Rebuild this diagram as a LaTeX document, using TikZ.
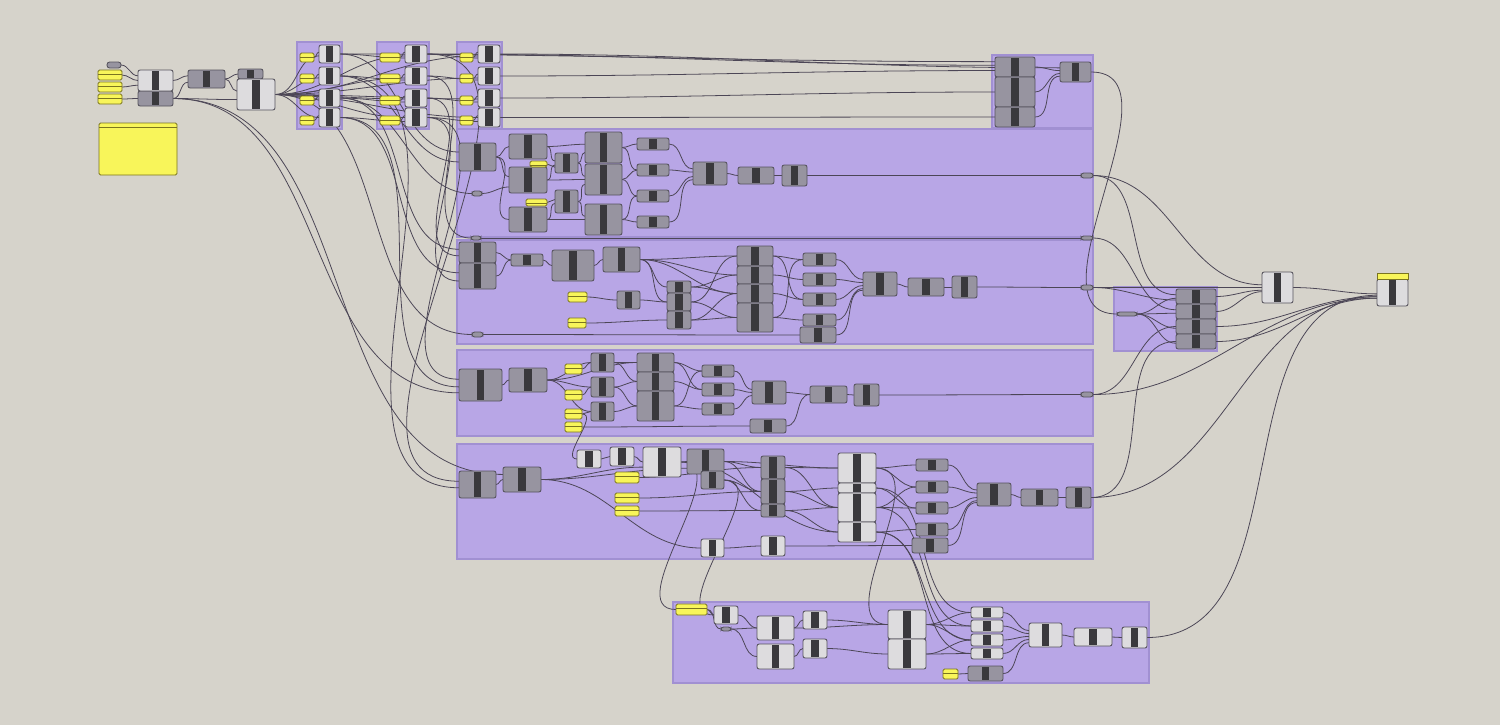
\documentclass[tikz,border=0pt]{standalone}
\usepackage{tikz}

\definecolor{bgc}{HTML}{D6D3CB}
\definecolor{grp}{HTML}{B8A6E6}
\definecolor{grpline}{HTML}{A190D2}
\definecolor{darkc}{HTML}{9794A0}
\definecolor{lightc}{HTML}{DDDCDE}
\definecolor{edge}{HTML}{55525C}
\definecolor{barc}{HTML}{3A393D}
\definecolor{ylw}{HTML}{F8F55A}
\definecolor{ylwline}{HTML}{7A7420}
\definecolor{wirec}{HTML}{4C4656}

\pgfdeclarelayer{groups}
\pgfdeclarelayer{wires}
\pgfsetlayers{groups,wires,main}

\begin{document}
\begin{tikzpicture}[x=0.02cm,y=-0.02cm,
  dark/.style={draw=edge,line width=0.5pt,fill=darkc,rounded corners=1.2pt,inner sep=0,outer sep=0,
    path picture={\fill[barc,sharp corners] ([xshift=-0.075cm,yshift=-0.02cm]path picture bounding box.north)
      rectangle ([xshift=0.075cm,yshift=0.02cm]path picture bounding box.south);}},
  light/.style={dark,fill=lightc},
  yellow/.style={draw=ylwline,line width=0.5pt,fill=ylw,rounded corners=0.8pt,inner sep=0,outer sep=0,
    path picture={\draw[ylwline,line width=0.4pt] ([yshift=-0.09cm]path picture bounding box.north west)
      -- ([yshift=-0.09cm]path picture bounding box.north east);}},
  flatyellow/.style={draw=ylwline,line width=0.4pt,fill=ylw,inner sep=0,outer sep=0},
  pill/.style={draw=edge,line width=0.5pt,fill=darkc,rounded corners=1.5pt,inner sep=0,outer sep=0},
  wire/.style={draw=wirec,line width=0.45pt},
  group/.style={fill=grp,draw=grpline,line width=0.6pt}]

% Canvas and groups
\begin{pgfonlayer}{groups}
\fill[bgc] (0,0) rectangle (1500,725);
\foreach \xa/\ya/\xb/\yb in {297/42/342/129, 377/42/429/129, 457/42/502/129, 992/55/1093/128,
    457/129/1093/237, 457/240/1093/344, 457/350/1093/436, 457/444/1093/559,
    673/602/1149/683, 1114/287/1217/351}
  \draw[group] (\xa,\ya) rectangle (\xb,\yb);
\end{pgfonlayer}
\useasboundingbox (0,0) rectangle (1500,725);

% Dark components
\foreach \n/\xa/\ya/\xb/\yb in {a2/138/91/173/106, b1/188/70/225/88, c0/238/69/263/79,
    t1/995/57/1035/77, t2/995/77/1035/107, t3/995/107/1035/127, t4/1060/62/1091/82,
    d1/459/143/496/171, d2/509/134/547/159, d3/509/167/547/193, d4/509/207/547/232,
    d5/555/153/578/173, d6/555/190/578/213, d7/585/132/622/163, d8/585/164/622/195,
    d9/585/204/622/235, d10/637/138/669/150, d11/637/164/669/176, d12/637/190/669/202,
    d13/637/216/669/228, d14/693/162/727/185, d15/738/167/774/184, d16/782/165/807/186,
    e1/459/242/496/263, e2/459/263/496/289, e3/511/254/543/266, e4/552/250/594/281,
    e5/603/247/640/272, e6/617/291/640/309, e7/667/281/691/293, e8/667/293/691/311,
    e9/667/311/691/329, e10/737/246/773/266, e11/737/266/773/284, e12/737/284/773/303,
    e13/737/303/773/332, e14/803/253/836/266, e15/803/273/836/286, e16/803/293/836/306,
    e17/803/314/836/326, e18/800/327/836/343, e19/863/272/897/296, e20/908/278/944/296,
    e21/952/276/977/298,
    h1/459/369/502/401, h2/509/368/547/392, h3/591/353/614/372, h4/591/377/614/397,
    h5/591/402/614/421, h6/637/353/674/372, h7/637/372/674/391, h8/637/391/674/421,
    h9/702/365/734/377, h10/702/383/734/396, h11/702/403/734/415, h12/752/381/786/404,
    h13/810/386/847/403, h14/854/384/879/406, h15/750/419/786/433,
    k1/459/471/496/498, k2/503/467/541/492, k6/687/449/724/474, k7/701/471/724/489,
    k8/761/456/785/479, k9/761/479/785/504, k10/761/504/785/517, k15/916/459/948/471,
    k16/916/481/948/493, k17/916/502/948/514, k18/916/523/948/536, k19/912/538/948/553,
    k20/977/483/1011/506, k21/1021/489/1058/506, k22/1066/487/1091/508,
    m13/968/666/1003/681,
    n1/1176/289/1216/304, n2/1176/304/1216/319, n3/1176/319/1216/334, n4/1176/334/1216/349}
  \node[dark, minimum width={(\xb-\xa)*0.02cm}, minimum height={(\yb-\ya)*0.02cm}]
    (\n) at ({(\xa+\xb)/2},{(\ya+\yb)/2}) {};

% Light components
\foreach \n/\xa/\ya/\xb/\yb in {a1/138/70/173/91, c1/237/79/275/110,
    q1/319/45/340/63, q2/319/67/340/85, q3/319/89/340/107, q4/319/108/340/127,
    s1/405/45/427/63, s2/405/67/427/85, s3/405/89/427/107, s4/405/108/427/127,
    r1/478/45/500/63, r2/478/67/500/85, r3/478/89/500/107, r4/478/108/500/127,
    k3/577/450/601/468, k4/610/447/634/466, k5/643/447/681/477, k11/838/453/876/483,
    k12/838/483/876/493, k13/838/493/876/522, k14/838/522/876/542,
    k23/701/539/724/557, k24/761/536/785/556,
    m2/714/606/738/624, m3/757/616/794/640, m4/757/644/794/669, m5/803/611/827/629,
    m6/803/639/827/658, m7/888/610/926/639, m8/888/639/926/669, m9/971/607/1003/618,
    m10/971/620/1003/632, m11/971/634/1003/646, m12/971/648/1003/659,
    m14/1029/623/1062/647, m15/1074/628/1112/646, m16/1122/627/1147/648,
    o/1262/272/1293/303, f/1377/279/1408/306}
  \node[light, minimum width={(\xb-\xa)*0.02cm}, minimum height={(\yb-\ya)*0.02cm}]
    (\n) at ({(\xa+\xb)/2},{(\ya+\yb)/2}) {};

% Yellow panels
\foreach \n/\xa/\ya/\xb/\yb in {y1/98/70/122/80, y2/98/82/122/92, y3/98/94/122/104,
    pan/99/123/177/175,
    p1/300/53/314/62, p2/300/74/314/83, p3/300/96/314/105, p4/300/116/314/125,
    u1/380/53/400/62, u2/380/74/400/83, u3/380/96/400/105, u4/380/116/400/125,
    v1/460/53/473/62, v2/460/74/473/83, v3/460/96/473/105, v4/460/116/473/125,
    dy1/530/161/547/167, dy2/526/199/547/206, ey1/568/292/587/302, ey2/568/318/586/328,
    hy1/565/364/582/374, hy2/565/390/582/400, hy3/565/409/582/419, hy4/565/422/582/432,
    ky1/615/472/639/483, ky2/615/493/639/503, ky3/615/506/639/516,
    m1/676/604/707/615, my/943/669/958/679}
  \node[yellow, minimum width={(\xb-\xa)*0.02cm}, minimum height={(\yb-\ya)*0.02cm}]
    (\n) at ({(\xa+\xb)/2},{(\ya+\yb)/2}) {};
\node[flatyellow, minimum width=0.62cm, minimum height=0.12cm] (fy) at (1392.5,276) {};

% Relays
\foreach \n/\xa/\ya/\xb/\yb in {tlp/107/62/121/68, dp1/472/191/482/196, dp2/471/236/481/240,
    ep/472/332/483/337, mp/721/627/731/631, dr/1081/173/1093/178, dr2/1081/236/1093/240,
    er/1081/285/1093/290, hr/1081/392/1093/397, rp/1117/312/1137/316}
  \node[pill, minimum width={(\xb-\xa)*0.02cm}, minimum height={(\yb-\ya)*0.02cm}]
    (\n) at ({(\xa+\xb)/2},{(\ya+\yb)/2}) {};

\begin{pgfonlayer}{wires}
% Inputs and first groups
\foreach \a/\b in {tlp.east/a1.165, y1.east/a1.180, y2.east/a1.195, y3.east/a2.180,
    a1.east/b1.170, a2.east/b1.190, a2.east/c1.195, b1.east/c1.170, b1.east/c0.west,
    c1.east/q1.190, c1.east/q2.190, c1.east/q3.185, c1.east/q4.180,
    c1.east/s1.190, c1.east/s2.190, c1.east/s3.185, c1.east/s4.180,
    c1.east/r1.190, c1.east/r2.190, c1.east/r3.185, c1.east/r4.180,
    p1.east/q1.170, p2.east/q2.170, p3.east/q3.170, p4.east/q4.170,
    u1.east/s1.170, u2.east/s2.170, u3.east/s3.170, u4.east/s4.170,
    v1.east/r1.170, v2.east/r2.170, v3.east/r3.170, v4.east/r4.170,
    q1.east/s1.200, q2.east/s2.200, q3.east/s3.200, q4.east/s4.200,
    s1.east/r1.200, s2.east/r2.200, s3.east/r3.200, s4.east/r4.200,
    q1.east/t1.165, s1.east/t1.175, r1.east/t4.165, r2.east/t1.190, r3.east/t2.180,
    r4.east/t3.180, t1.east/t4.175, t2.east/t4.185, t3.east/t4.195}
  \draw[wire] (\a) to[out=0,in=180] (\b);

% Long feeds into the lower groups
\foreach \a/\b in {q1.east/d1.165, q2.east/d1.195, q3.east/dp1.west, s2.east/dp2.west,
    q3.east/e1.170, s3.east/e1.190, q4.east/e2.170, s4.east/e2.195, c1.east/ep.west,
    s4.east/h1.165, q4.east/h1.185, a2.east/h1.200, s1.east/k1.170, q2.east/k1.190,
    a2.east/k2.165}
  \draw[wire] (\a) to[out=0,in=180] (\b);

% Group four
\foreach \a/\b in {d1.east/d2.west, d1.east/d3.170, d1.east/d4.west, dp1.east/d3.200,
    d2.east/d7.170, d2.east/d5.170, d3.east/d5.190, d3.east/d8.west, dy1.east/d5.200,
    dy2.east/d6.170, d4.east/d6.190, d4.east/d9.west, d5.east/d7.195, d5.east/d8.170,
    d6.east/d8.195, d6.east/d9.170, d7.east/d10.west, d7.east/d11.west, d8.east/d11.west,
    d8.east/d12.west, d9.east/d12.west, d9.east/d13.west, d10.east/d14.165,
    d11.east/d14.175, d12.east/d14.190, d13.east/d14.200, d14.east/d15.west,
    d15.east/d16.west, d16.east/dr.west, dp2.east/dr2.west}
  \draw[wire] (\a) to[out=0,in=180] (\b);

% Group five
\foreach \a/\b in {e1.east/e3.west, e2.east/e3.west, e3.east/e4.west, e4.east/e5.west,
    e5.east/e10.west, e5.east/e11.west, e5.east/e7.west, e5.east/e8.west, e5.east/e12.west,
    ey1.east/e6.west, e6.east/e8.west, ey2.east/e9.west, e7.east/e11.west, e7.east/e12.west,
    e8.east/e10.west, e8.east/e13.west, e9.east/e12.west, e9.east/e13.west,
    e10.east/e14.west, e11.east/e15.west, e12.east/e16.west, e13.east/e17.west,
    e10.east/e16.west, e13.east/e14.west, e14.east/e19.165, e15.east/e19.175,
    e16.east/e19.185, e17.east/e19.195, e18.east/e19.200, e19.east/e20.west,
    e20.east/e21.west, e21.east/er.west, ep.east/e18.west}
  \draw[wire] (\a) to[out=0,in=180] (\b);

% Group six
\foreach \a/\b in {h1.east/h2.west, h2.east/h3.west, h2.east/h4.west, h2.east/h5.west,
    h2.east/h6.west, hy1.east/h3.west, hy2.east/h4.west, hy3.east/h5.west,
    hy4.east/h15.west, h3.east/h6.west, h3.east/h7.west, h4.east/h7.west, h4.east/h8.west,
    h5.east/h8.west, h6.east/h9.west, h6.east/h10.west, h7.east/h10.west,
    h8.east/h11.west, h8.east/h9.west, h9.east/h12.170, h10.east/h12.west,
    h11.east/h12.190, h12.east/h13.west, h15.east/h13.west, h13.east/h14.west,
    h14.east/hr.west, hy3.east/k3.west}
  \draw[wire] (\a) to[out=0,in=180] (\b);

% Group seven
\foreach \a/\b in {k1.east/k2.west, k2.east/k5.195, k2.east/k6.200, k2.east/k23.west,
    k3.east/k4.west, k4.east/k5.west, k5.east/k6.west, k5.east/k14.west,
    k6.east/k8.west, k6.east/k9.west, k6.east/k11.west, k7.east/k9.west, k7.east/k10.west,
    ky1.east/k8.west, ky2.east/k9.west, ky3.east/k10.west, k8.east/k11.west,
    k8.east/k13.west, k9.east/k12.west, k9.east/k13.west, k10.east/k14.west,
    k10.east/k13.west, k11.east/k15.west, k11.east/k16.west, k13.east/k16.west,
    k13.east/k17.west, k14.east/k18.west, k12.east/k17.west, k15.east/k20.165,
    k16.east/k20.175, k17.east/k20.190, k18.east/k20.200, k19.east/k20.205,
    k20.east/k21.west, k21.east/k22.west, k23.east/k24.west, k24.east/k19.west}
  \draw[wire] (\a) to[out=0,in=180] (\b);

% Group eight
\foreach \a/\b in {m1.east/m2.west, m1.east/mp.west, m2.east/m3.west, mp.east/m3.west,
    mp.east/m4.west, m3.east/m5.west, m3.east/m7.west, m4.east/m6.west, m5.east/m7.west,
    m6.east/m8.west, m7.east/m9.west, m7.east/m10.west, m7.east/m11.west,
    m8.east/m11.west, m8.east/m12.west, m9.east/m14.165, m10.east/m14.175,
    m11.east/m14.185, m12.east/m14.195, my.east/m13.west, m13.east/m14.205,
    m14.east/m15.west, m15.east/m16.west,
    k12.east/m9.west, k13.east/m10.west, k14.east/m11.west, k14.east/m12.west,
    k11.east/m7.west, k5.east/m1.west, k7.east/m2.west}
  \draw[wire] (\a) to[out=0,in=180] (\b);

% Right side
\foreach \a/\b in {t4.east/rp.west, dr.east/n1.175, dr2.east/n2.175, er.east/n1.190,
    hr.east/n3.180, k22.east/n4.180, rp.east/n1.185, rp.east/n2.185, rp.east/n3.185,
    rp.east/n4.185, n1.east/o.190, n2.east/o.195, n3.east/f.195, n4.east/f.200,
    dr.east/o.170, er.east/o.180, o.east/f.185, m16.east/f.190, k22.east/f.195,
    hr.east/f.200}
  \draw[wire] (\a) to[out=0,in=180] (\b);
\end{pgfonlayer}

\end{tikzpicture}
\end{document}
